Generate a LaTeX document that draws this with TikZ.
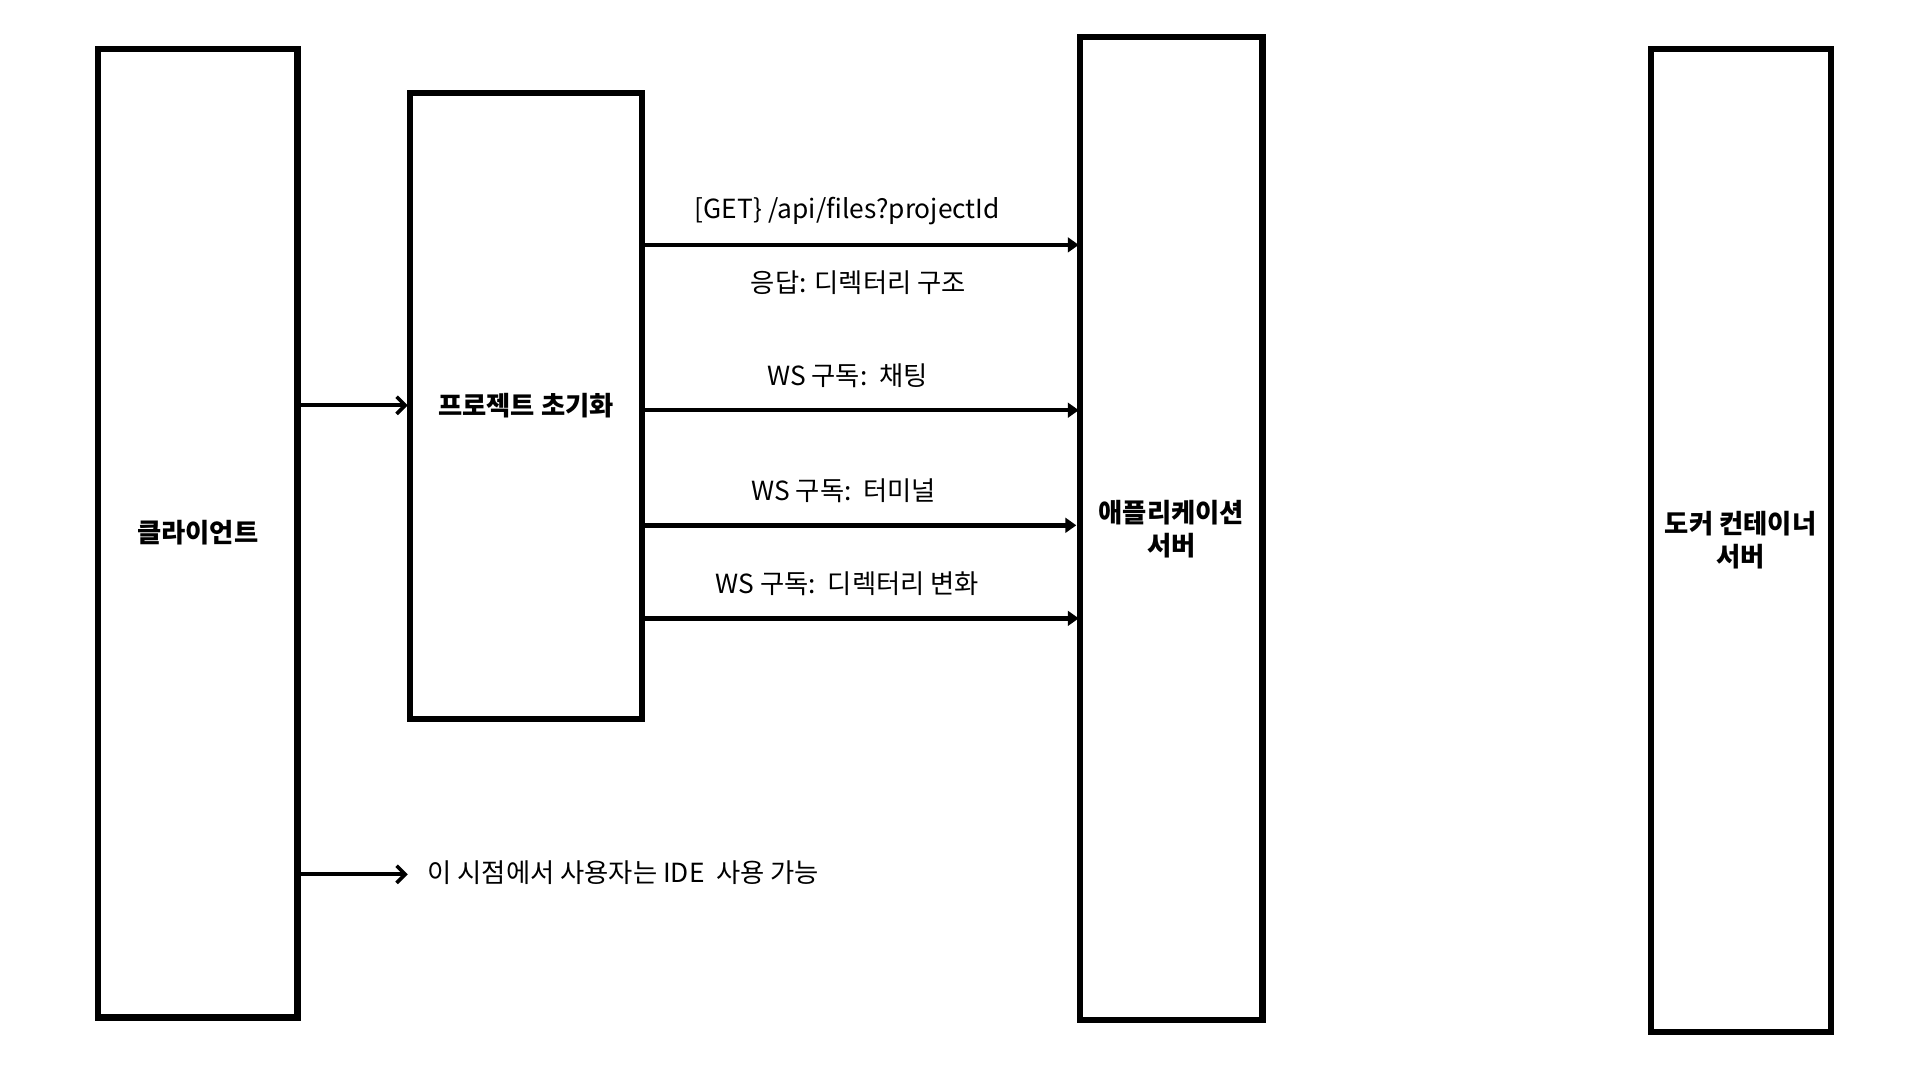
\documentclass[tikz,border=0pt]{standalone}
\usepackage{fontspec}
\setmainfont{Noto Sans CJK KR}
\usetikzlibrary{arrows.meta}
\begin{document}
\begin{tikzpicture}[x=1pt,y=-1pt,
  lane/.style={draw=black,line width=5pt,inner sep=0pt},
  lanelabel/.style={font=\fontsize{21.5}{27}\selectfont\bfseries,align=center},
  msg/.style={font=\fontsize{21.5}{27}\selectfont},
  openarrow/.style={line width=3.2pt,-{Straight Barb[length=7pt,width=14pt,line width=3pt]}},
  fillarrow/.style={line width=3.6pt,-{Triangle[length=9pt,width=12pt]}}]
\useasboundingbox (0,0) rectangle (1568,874);
% boxes
\draw[lane] (80,40) rectangle (243,831);
\draw[lane] (335,76) rectangle (524,587);
\draw[lane] (882,30) rectangle (1031,833);
\draw[lane] (1348,40) rectangle (1495,843);
\node[lanelabel] (client) at (161.5,435) {클라이언트};
\node[lanelabel] (init) at (429.5,331) {프로젝트 초기화};
\node[lanelabel] (app) at (956.5,432) {애플리케이션\\서버};
\node[lanelabel] (docker) at (1421.5,441) {도커 컨테이너\\서버};
% anchor coordinates
\coordinate (c1) at (245,331);
\coordinate (i1) at (333,331);
\coordinate (c2) at (245,714);
\coordinate (t2) at (333,714);
\coordinate (pa) at (526,200);
\coordinate (aa) at (881,200);
\coordinate (pb) at (526,335);
\coordinate (ab) at (881,335);
\coordinate (pc) at (526,429);
\coordinate (ac) at (879,429);
\coordinate (pd) at (526,505);
\coordinate (ad) at (881,505);
% arrows
\draw[openarrow] (c1) -- (i1);
\draw[openarrow] (c2) -- (t2);
\draw[fillarrow] (pa) -- (aa);
\draw[fillarrow] (pb) -- (ab);
\draw[fillarrow] (pc) -- (ac);
\draw[fillarrow] (pd) -- (ad);
% labels
\node[msg] (l1) at (692,172) {[GET\} /api/files?projectId};
\node[msg] (l2) at (701,231) {응답: 디렉터리 구조};
\node[msg] (l3) at (692,307) {WS 구독:\ \ 채팅};
\node[msg] (l4) at (689,401) {WS 구독:\ \ 터미널};
\node[msg] (l5) at (692,477) {WS 구독:\ \ 디렉터리 변화};
\node[msg,anchor=west,inner sep=0pt] (l6) at (349,713) {이 시점에서 사용자는 IDE\ \ 사용 가능};
\end{tikzpicture}
\end{document}
